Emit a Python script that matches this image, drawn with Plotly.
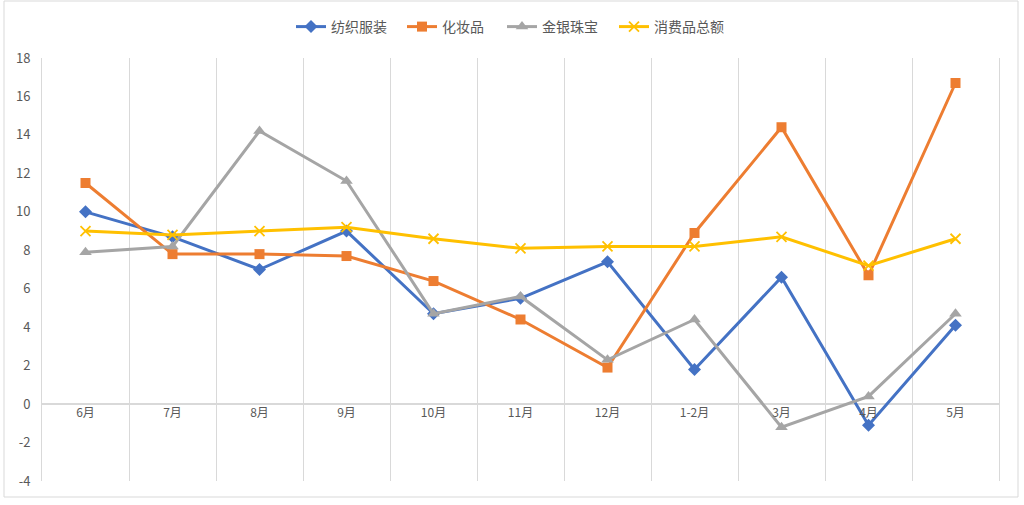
import plotly.graph_objects as go

categories = ["6月", "7月", "8月", "9月", "10月", "11月", "12月", "1-2月", "3月", "4月", "5月"]
textile = [10.0, 8.7, 7.0, 9.0, 4.7, 5.5, 7.4, 1.8, 6.6, -1.1, 4.1]
cosmetics = [11.5, 7.8, 7.8, 7.7, 6.4, 4.4, 1.9, 8.9, 14.4, 6.7, 16.7]
jewelry = [7.9, 8.2, 14.2, 11.6, 4.7, 5.6, 2.3, 4.4, -1.2, 0.4, 4.7]
total = [9.0, 8.8, 9.0, 9.2, 8.6, 8.1, 8.2, 8.2, 8.7, 7.2, 8.6]
y_ticks = [-4, -2, 0, 2, 4, 6, 8, 10, 12, 14, 16, 18]
y_tick_text = ["-4", "-2", "0", "2", "4", "6", "8", "10", "12", "14", "16", "18"]

W, H = 1024, 505
L, R, T, B = 42, 25, 58, 24
pw, ph = W - L - R, H - T - B

font_family = "Noto Sans CJK SC, Noto Sans, sans-serif"
tick_color = "#595959"
grid_color = "#D9D9D9"

def px_to_paper_x(px):
    return (px - L) / pw

def px_to_paper_y(py):
    return (H - B - py) / ph

fig = go.Figure()
fig.add_trace(go.Scatter(x=categories, y=textile, name="纺织服装", mode="lines+markers",
                         line=dict(color="#4472C4", width=3), legend="legend", showlegend=True,
                         marker=dict(symbol="diamond", size=10, color="#4472C4")))
fig.add_trace(go.Scatter(x=categories, y=cosmetics, name="化妆品", mode="lines+markers",
                         line=dict(color="#ED7D31", width=3), legend="legend2", showlegend=True,
                         marker=dict(symbol="square", size=10, color="#ED7D31")))
fig.add_trace(go.Scatter(x=categories, y=jewelry, name="金银珠宝", mode="lines+markers",
                         line=dict(color="#A5A5A5", width=3), legend="legend3", showlegend=True,
                         marker=dict(symbol="triangle-up", size=11, color="#A5A5A5")))
fig.add_trace(go.Scatter(x=categories, y=total, name="消费品总额", mode="lines+markers",
                         line=dict(color="#FFC000", width=3), legend="legend4", showlegend=True,
                         marker=dict(symbol="x-thin", size=10, color="#FFC000",
                                     line=dict(color="#FFC000", width=1.8))))

legend_px = [291, 402, 502, 614]
def make_legend(px):
    return dict(orientation="h", x=px_to_paper_x(px), xanchor="left",
                y=px_to_paper_y(27), yanchor="middle",
                font=dict(size=14, color=tick_color), itemwidth=30,
                bgcolor="rgba(0,0,0,0)")

fig.update_layout(
    width=W, height=H, showlegend=True,
    margin=dict(l=L, r=R, t=T, b=B, autoexpand=False),
    paper_bgcolor="white", plot_bgcolor="white",
    font=dict(family=font_family, color=tick_color, size=12),
    legend=make_legend(legend_px[0]),
    legend2=make_legend(legend_px[1]),
    legend3=make_legend(legend_px[2]),
    legend4=make_legend(legend_px[3]),
    xaxis=dict(type="category", tickson="boundaries", showgrid=True,
               range=[-0.5, len(categories) - 0.5],
               gridcolor=grid_color, gridwidth=1, ticks="",
               anchor="free", position=4 / 22, showline=False,
               automargin=False,
               tickfont=dict(size=12, color=tick_color), zeroline=False),
    yaxis=dict(range=[-4, 18], tickvals=y_ticks, ticktext=y_tick_text,
               showgrid=False, zeroline=True, automargin=False,
               zerolinecolor=grid_color, zerolinewidth=1.5,
               showline=True, mirror=True, linecolor=grid_color, linewidth=1,
               tickfont=dict(size=13, color=tick_color), ticklabelstandoff=8),
    shapes=[dict(type="rect", xref="paper", yref="paper",
                 x0=px_to_paper_x(4), x1=px_to_paper_x(1018),
                 y0=px_to_paper_y(497), y1=px_to_paper_y(1),
                 line=dict(color="#D9D9D9", width=1), fillcolor="rgba(0,0,0,0)",
                 layer="below")],
)

fig.write_html("out.html")
